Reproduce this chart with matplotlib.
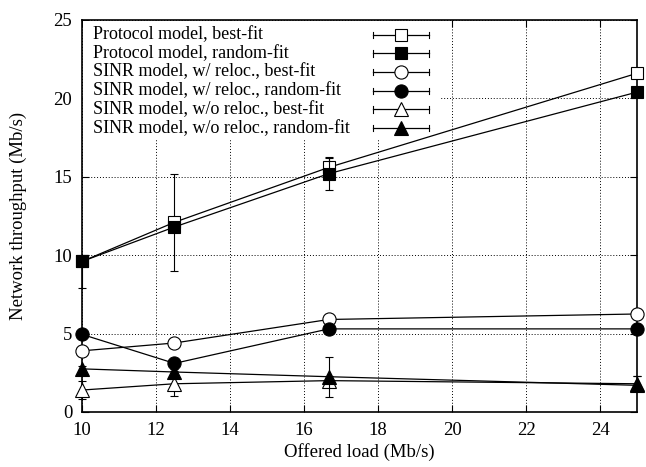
import matplotlib
matplotlib.use('Agg')
import matplotlib.pyplot as plt
from matplotlib.patches import Rectangle

plt.rcParams['font.family'] = ['Liberation Serif', 'DejaVu Serif']

################################ data ################################
load = [10, 12.5, 16.67, 25]

proto_best = [9.6, 12.1, 15.6, 21.6]
proto_rand = [9.6, 11.8, 15.2, 20.4]
sinr_rel_best = [3.9, 4.4, 5.9, 6.25]
sinr_rel_rand = [4.95, 3.1, 5.3, 5.3]
sinr_norel_best = [1.4, 1.8, 2.0, 1.8]
sinr_norel_rand = [2.75, 2.55, 2.25, 1.7]

# error bars (down, up)
proto_best_lo = [0, 3.1, 0.3, 0]
proto_best_hi = [0, 3.1, 0.6, 0]
proto_rand_lo = [1.7, 0.3, 1.05, 0]
proto_rand_hi = [0, 0.3, 1.05, 0]
sinr_rel_best_lo = [0, 0, 0, 0]
sinr_rel_best_hi = [0, 0, 0, 0]
sinr_rel_rand_lo = [0, 0, 0, 0]
sinr_rel_rand_hi = [0, 0, 0, 0]
sinr_norel_best_lo = [0.6, 0.8, 0.3, 0.4]
sinr_norel_best_hi = [0.55, 0.8, 0.3, 0.5]
sinr_norel_rand_lo = [0.2, 0.2, 1.3, 0.2]
sinr_norel_rand_hi = [0.2, 0.2, 1.25, 0.6]

names = ['Protocol model, best-fit',
         'Protocol model, random-fit',
         'SINR model, w/ reloc., best-fit',
         'SINR model, w/ reloc., random-fit',
         'SINR model, w/o reloc., best-fit',
         'SINR model, w/o reloc., random-fit']

series = [proto_best, proto_rand, sinr_rel_best, sinr_rel_rand, sinr_norel_best, sinr_norel_rand]
errs = [[proto_best_lo, proto_best_hi], [proto_rand_lo, proto_rand_hi],
        [sinr_rel_best_lo, sinr_rel_best_hi], [sinr_rel_rand_lo, sinr_rel_rand_hi],
        [sinr_norel_best_lo, sinr_norel_best_hi], [sinr_norel_rand_lo, sinr_norel_rand_hi]]
markers = ['s', 's', 'o', 'o', '^', '^']
fills = ['white', 'black', 'white', 'black', 'white', 'black']
msizes = [9, 9, 9.5, 9.5, 10, 10]

fs = 13.5

fig = plt.figure(figsize=(6.46, 4.67), dpi=100)
ax = fig.add_axes([0.1269, 0.1178, 0.8592, 0.8394])

for i in range(len(series)):
    ax.errorbar(load, series[i], yerr=errs[i], color='black', lw=0.9,
                marker=markers[i], ms=msizes[i], mfc=fills[i], mec='black', mew=0.8,
                capsize=3, elinewidth=0.8, capthick=0.8, zorder=3 + i * 0.1, clip_on=False)

ax.set_xlim(10, 25)
ax.set_ylim(0, 25)
ax.set_xticks([10, 12, 14, 16, 18, 20, 22, 24])
ax.set_yticks([0, 5, 10, 15, 20, 25])
ax.grid(True, color='black', linestyle=(0, (1, 2)), linewidth=0.7)
ax.tick_params(direction='in', length=5, top=True, right=True, labelsize=fs, width=0.8)
ax.tick_params(axis='y', pad=7)
ax.tick_params(axis='x', pad=7)
for s in ax.spines.values():
    s.set_linewidth(1.2)
ax.set_xlabel('Offered load (Mb/s)', fontsize=fs, va='center')
ax.set_ylabel('Network throughput (Mb/s)', fontsize=fs, va='center')
ax.xaxis.set_label_coords(0.5, -0.101)
ax.yaxis.set_label_coords(-0.115, 0.5)

# gnuplot style key
ax.add_patch(Rectangle((0.002, 0.694), 0.643, 0.304, transform=ax.transAxes,
                       facecolor='white', edgecolor='none', zorder=2.5))
y0 = 0.9625
dy = 0.0477
for i in range(len(names)):
    yy = y0 - i * dy
    ax.text(0.0198, yy, names[i], transform=ax.transAxes, fontsize=13,
            ha='left', va='center', zorder=4)
    ax.plot([0.5238, 0.6257], [yy, yy], transform=ax.transAxes, color='black', lw=0.9, zorder=4)
    ax.plot([0.5238, 0.5238], [yy - 0.008, yy + 0.008], transform=ax.transAxes, color='black', lw=0.8, zorder=4)
    ax.plot([0.6257, 0.6257], [yy - 0.008, yy + 0.008], transform=ax.transAxes, color='black', lw=0.8, zorder=4)
    ax.plot([0.5748], [yy], transform=ax.transAxes, marker=markers[i], ms=msizes[i],
            mfc=fills[i], mec='black', mew=0.8, zorder=5)

fig.savefig('out.png', dpi=100)
